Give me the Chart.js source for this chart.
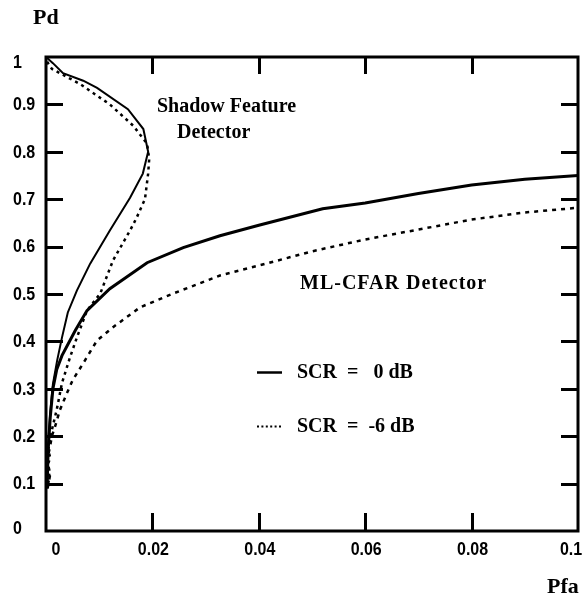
<!DOCTYPE html>
<html>
<head>
<meta charset="utf-8">
<script src="https://cdn.jsdelivr.net/npm/chart.js@4.4.0/dist/chart.umd.min.js"></script>
<style>
  html, body { margin: 0; padding: 0; background: #fff; }
  #wrap { width: 584px; height: 604px; }
</style>
</head>
<body>
<div id="wrap"><canvas id="c" width="584" height="604"></canvas></div>
<script>
// ---- data ----
const shadow0X = [0, 0.0013, 0.0032, 0.007, 0.0096, 0.0154, 0.0183, 0.0192, 0.0182, 0.0158, 0.012, 0.0083, 0.0058, 0.0041, 0.003, 0.0021, 0.0013, 0.0008, 0.0005, 0.0003, 0.0002];
const shadow0Y = [1.0, 0.987, 0.966, 0.95, 0.935, 0.89, 0.848, 0.80, 0.754, 0.703, 0.634, 0.564, 0.507, 0.461, 0.408, 0.36, 0.31, 0.25, 0.20, 0.15, 0.09];

const shadow6X = [0.0002, 0.0011, 0.0064, 0.012, 0.0164, 0.019, 0.0194, 0.0192, 0.0186, 0.0170, 0.0158, 0.0126, 0.0102, 0.0077, 0.0058, 0.0045, 0.003, 0.002, 0.0011, 0.0004, 0.0008, 0.0002, 0.0007, 0.0002];
const shadow6Y = [0.99, 0.975, 0.943, 0.90, 0.855, 0.817, 0.785, 0.754, 0.70, 0.66, 0.634, 0.571, 0.501, 0.465, 0.408, 0.366, 0.312, 0.255, 0.213, 0.17, 0.155, 0.135, 0.115, 0.09];

const ml0X = [0.0002, 0.0004, 0.0008, 0.0013, 0.002, 0.003, 0.0055, 0.0077, 0.012, 0.019, 0.0258, 0.0327, 0.04, 0.052, 0.06, 0.07, 0.08, 0.09, 0.1];
const ml0Y = [0.09, 0.17, 0.24, 0.30, 0.34, 0.37, 0.423, 0.465, 0.511, 0.566, 0.598, 0.623, 0.645, 0.68, 0.692, 0.712, 0.73, 0.742, 0.75];

const ml6X = [0.0003, 0.0008, 0.0002, 0.0008, 0.0011, 0.0017, 0.0026, 0.0039, 0.005, 0.007, 0.0096, 0.0126, 0.0177, 0.0239, 0.0327, 0.04, 0.05, 0.06, 0.07, 0.08, 0.09, 0.1];
const ml6Y = [0.09, 0.12, 0.15, 0.18, 0.20, 0.22, 0.255, 0.29, 0.318, 0.354, 0.402, 0.43, 0.472, 0.501, 0.539, 0.56, 0.59, 0.615, 0.636, 0.657, 0.672, 0.682];

const xTickValues = [0, 0.02, 0.04, 0.06, 0.08, 0.1];
const xTickLabels = ['0', '0.02', '0.04', '0.06', '0.08', '0.1'];
const yTickValues = [0, 0.1, 0.2, 0.3, 0.4, 0.5, 0.6, 0.7, 0.8, 0.9, 1];
const yTickLabels = ['0', '0.1', '0.2', '0.3', '0.4', '0.5', '0.6', '0.7', '0.8', '0.9', '1'];

const seriesNames = ['SCR  =   0 dB', 'SCR  =  -6 dB'];
const xTitle = 'Pfa';
const yTitle = 'Pd';

function pts(xs, ys) { return xs.map((x, i) => ({ x: x, y: ys[i] })); }

const TICK_FONT = 'bold 16px "Liberation Sans", Arial, sans-serif';
const SERIF_FAM = '"Liberation Serif", "Times New Roman", serif';

function tallText(ctx, txt, x, y, sy) {
  ctx.save();
  ctx.translate(x, y);
  ctx.scale(1, sy);
  ctx.fillText(txt, 0, 0);
  ctx.restore();
}

const decorPlugin = {
  id: 'decor',
  afterDraw(chart) {
    const ctx = chart.ctx;
    const a = chart.chartArea;
    const xs = chart.scales.x, ys = chart.scales.y;
    ctx.save();
    ctx.strokeStyle = '#000';
    ctx.fillStyle = '#000';
    ctx.lineWidth = 3;
    ctx.lineCap = 'butt';
    // frame
    ctx.strokeRect(a.left, a.top, a.right - a.left, a.bottom - a.top);
    // inward ticks
    ctx.beginPath();
    yTickValues.forEach((v, i) => {
      if (i === 0 || i === yTickValues.length - 1) return;
      const py = Math.round(ys.getPixelForValue(v)) + 0.5;
      ctx.moveTo(a.left, py); ctx.lineTo(a.left + 17, py);
      ctx.moveTo(a.right, py); ctx.lineTo(a.right - 17, py);
    });
    xTickValues.forEach((v, i) => {
      if (i === 0 || i === xTickValues.length - 1) return;
      const px = Math.round(xs.getPixelForValue(v)) + 0.5;
      ctx.moveTo(px, a.bottom); ctx.lineTo(px, a.bottom - 18);
      ctx.moveTo(px, a.top); ctx.lineTo(px, a.top + 17);
    });
    ctx.stroke();

    // tick labels
    ctx.font = TICK_FONT;
    ctx.textBaseline = 'middle';
    ctx.textAlign = 'left';
    yTickValues.forEach((v, i) => {
      let py = ys.getPixelForValue(v);
      if (i === yTickValues.length - 1) py += 5;
      if (i === 0) py -= 3;
      tallText(ctx, yTickLabels[i], 13, py + 1, 1.1);
    });
    ctx.textAlign = 'center';
    xTickValues.forEach((v, i) => {
      let px = xs.getPixelForValue(v);
      if (i === 0) px += 9;
      if (i === xTickValues.length - 1) px -= 8;
      tallText(ctx, xTickLabels[i], px + 1, 550, 1.1);
    });

    // axis titles
    ctx.font = 'bold 22px ' + SERIF_FAM;
    ctx.textAlign = 'left';
    ctx.fillText(yTitle, 33, 18);
    ctx.fillText(xTitle, 547, 587);

    // annotations
    ctx.font = 'bold 20px ' + SERIF_FAM;
    ctx.fillText('Shadow Feature', 157, 107);
    ctx.fillText('Detector', 177, 133);
    ctx.letterSpacing = '1px';
    ctx.fillText('ML-CFAR Detector', 300, 284);
    ctx.letterSpacing = '0px';

    // legend
    ctx.fillText(seriesNames[0], 297, 373);
    ctx.fillText(seriesNames[1], 297, 427);
    ctx.lineWidth = 2.5;
    ctx.beginPath();
    ctx.moveTo(257, 372.5); ctx.lineTo(282, 372.5);
    ctx.stroke();
    ctx.lineWidth = 2;
    ctx.setLineDash([2, 2.4]);
    ctx.beginPath();
    ctx.moveTo(257, 426.5); ctx.lineTo(283, 426.5);
    ctx.stroke();
    ctx.restore();
  }
};

new Chart(document.getElementById('c'), {
  type: 'scatter',
  data: {
    datasets: [
      { label: 'Shadow ' + seriesNames[0], data: pts(shadow0X, shadow0Y), showLine: true, borderColor: '#000', borderWidth: 2, pointRadius: 0, tension: 0 },
      { label: 'Shadow ' + seriesNames[1], data: pts(shadow6X, shadow6Y), showLine: true, borderColor: '#000', borderWidth: 2.5, borderDash: [3, 4], pointRadius: 0, tension: 0 },
      { label: 'ML-CFAR ' + seriesNames[0], data: pts(ml0X, ml0Y), showLine: true, borderColor: '#000', borderWidth: 3, pointRadius: 0, tension: 0 },
      { label: 'ML-CFAR ' + seriesNames[1], data: pts(ml6X, ml6Y), showLine: true, borderColor: '#000', borderWidth: 2.5, borderDash: [4, 5], pointRadius: 0, tension: 0 }
    ]
  },
  options: {
    responsive: false,
    animation: false,
    layout: { padding: { left: 46, right: 6, top: 57, bottom: 73 } },
    plugins: { legend: { display: false }, tooltip: { enabled: false } },
    scales: {
      x: { type: 'linear', min: 0, max: 0.1, display: false },
      y: { type: 'linear', min: 0, max: 1, display: false }
    }
  },
  plugins: [decorPlugin]
});
</script>
</body>
</html>
